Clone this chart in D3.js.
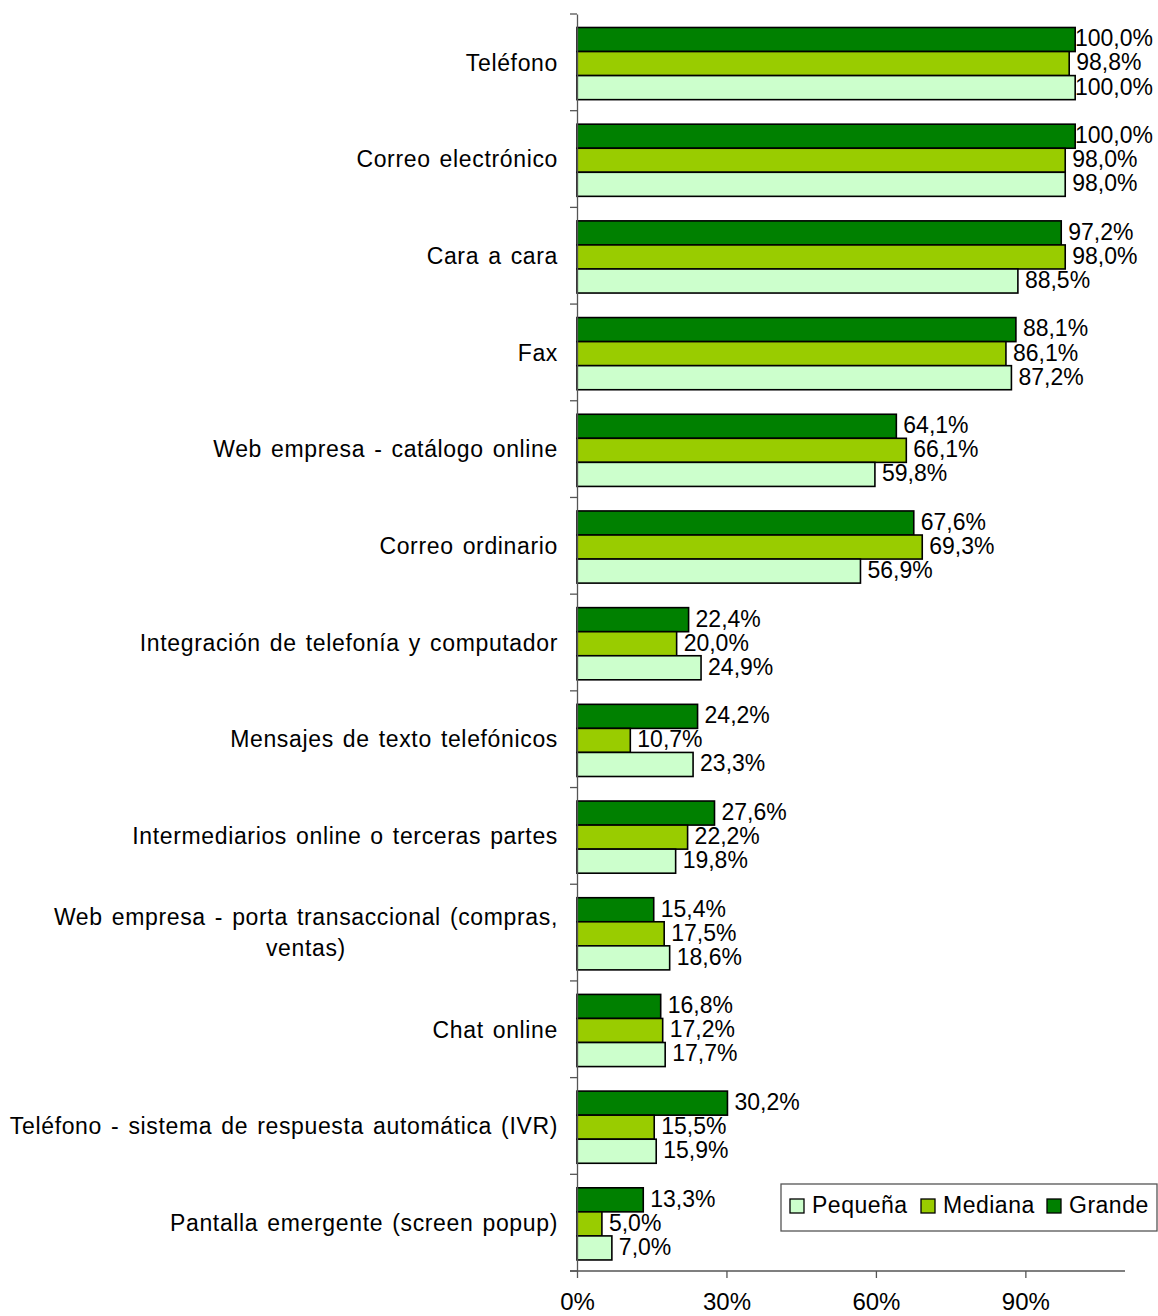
<!DOCTYPE html>
<html>
<head>
<meta charset="utf-8">
<script src="https://cdn.jsdelivr.net/npm/d3@7"></script>
<style>
  html, body { margin: 0; padding: 0; background: #fff; }
  svg { display: block; font-family: "Liberation Sans", Arial, sans-serif; }
</style>
</head>
<body>
<svg id="chart" width="1158" height="1316"></svg>
<script>
// Communication channels by company size (share of companies, %)
const categories = [
  "Teléfono",
  "Correo electrónico",
  "Cara a cara",
  "Fax",
  "Web empresa - catálogo online",
  "Correo ordinario",
  "Integración de telefonía y computador",
  "Mensajes de texto telefónicos",
  "Intermediarios online o terceras partes",
  "Web empresa - porta transaccional (compras, ventas)",
  "Chat online",
  "Teléfono - sistema de respuesta automática (IVR)",
  "Pantalla emergente (screen popup)"
];
const seriesNames = ["Grande", "Mediana", "Pequeña"];
const grande  = [100.0, 100.0, 97.2, 88.1, 64.1, 67.6, 22.4, 24.2, 27.6, 15.4, 16.8, 30.2, 13.3];
const mediana = [98.8, 98.0, 98.0, 86.1, 66.1, 69.3, 20.0, 10.7, 22.2, 17.5, 17.2, 15.5, 5.0];
const pequena = [100.0, 98.0, 88.5, 87.2, 59.8, 56.9, 24.9, 23.3, 19.8, 18.6, 17.7, 15.9, 7.0];
const legendOrder = ["Pequeña", "Mediana", "Grande"];
const xTicks = [0, 30, 60, 90];
const colors = { "Grande": "#008000", "Mediana": "#99CC00", "Pequeña": "#CCFFCC" };

const values = { "Grande": grande, "Mediana": mediana, "Pequeña": pequena };

const svg = d3.select("#chart");
const plotLeft = 577, plotRight = 1125, plotTop = 14, plotBottom = 1271;
const valueFont = 23;
const labelFont = 23;

const x = d3.scaleLinear().domain([0, 110]).range([plotLeft, plotRight]);
const y = d3.scaleBand().domain(categories).range([plotTop, plotBottom]).paddingInner(0).paddingOuter(0);
const inner = d3.scaleBand().domain(seriesNames)
  .range([0, y.bandwidth()]).paddingInner(0).paddingOuter(0.51).align(0.55);

const fmt = v => d3.format(".1f")(v).replace(".", ",") + "%";

// Bars
const groups = svg.append("g").selectAll("g")
  .data(categories)
  .join("g")
  .attr("transform", d => `translate(0,${y(d)})`);

seriesNames.forEach(s => {
  groups.append("rect")
    .attr("x", x(0))
    .attr("y", inner(s))
    .attr("width", (d, i) => x(values[s][i]) - x(0))
    .attr("height", inner.bandwidth())
    .attr("fill", colors[s])
    .attr("stroke", "#000")
    .attr("stroke-width", 1.6);
});

// Value labels, kept inside the right edge of the drawing
const labelLimit = 1153;
seriesNames.forEach(s => {
  groups.append("text")
    .attr("y", inner(s) + inner.bandwidth() / 2)
    .attr("dy", "0.3em")
    .attr("font-size", valueFont)
    .attr("fill", "#000")
    .text((d, i) => fmt(values[s][i]))
    .attr("x", function(d, i) {
      const w = this.getComputedTextLength();
      return Math.min(x(values[s][i]) + 7, labelLimit - w);
    });
});

// Axes
const axisColor = "#555";
const yAxis = svg.append("g")
  .attr("transform", `translate(${plotLeft},0)`)
  .call(d3.axisLeft(y).tickValues([]).tickSizeOuter(0));
yAxis.select(".domain").attr("stroke", axisColor).attr("stroke-width", 1.3);

// Category boundary ticks on the vertical axis
const bounds = categories.map(c => y(c)).concat([plotBottom]);
svg.append("g").selectAll("line")
  .data(bounds)
  .join("line")
  .attr("x1", plotLeft - 7).attr("x2", plotLeft)
  .attr("y1", d => d).attr("y2", d => d)
  .attr("stroke", axisColor).attr("stroke-width", 1.3);

const xAxis = svg.append("g")
  .attr("transform", `translate(0,${plotBottom})`)
  .call(d3.axisBottom(x).tickValues(xTicks).tickSize(7).tickSizeOuter(0).tickFormat(d => d + "%"));
xAxis.select(".domain").attr("stroke", axisColor).attr("stroke-width", 1.3).attr("d", `M${plotLeft - 7},0H${plotRight}`);
xAxis.selectAll(".tick line").attr("stroke", axisColor).attr("stroke-width", 1.3);
xAxis.selectAll(".tick text")
  .attr("font-size", 24)
  .attr("font-family", "'Liberation Sans', Arial, sans-serif")
  .attr("fill", "#000")
  .attr("y", 39)
  .attr("dy", "0");

// Category labels (wrapped when too long)
const labelRight = 558;
const maxLabelWidth = 560;
const catLabels = svg.append("g")
  .attr("letter-spacing", 0.65)
  .attr("word-spacing", 2);
categories.forEach(c => {
  const cy = y(c) + y.bandwidth() / 2;
  const t = catLabels.append("text")
    .attr("font-size", labelFont)
    .attr("fill", "#000");
  t.text(c);
  const w = t.node().getComputedTextLength();
  if (w <= maxLabelWidth) {
    t.attr("x", labelRight).attr("y", cy).attr("dy", "0.36em").attr("text-anchor", "end");
  } else {
    // split onto two lines, centred as a block that ends at labelRight
    const words = c.split(" ");
    let line1 = [], line2 = [];
    words.forEach(wd => {
      const trial = line1.concat([wd]).join(" ");
      t.text(trial);
      if (line2.length === 0 && t.node().getComputedTextLength() <= 520) line1.push(wd);
      else line2.push(wd);
    });
    t.text(line1.join(" "));
    const w1 = t.node().getComputedTextLength();
    t.text("");
    const cx = labelRight - w1 / 2;
    const lh = 31;
    t.attr("text-anchor", "middle");
    t.append("tspan").attr("x", cx).attr("y", cy - lh / 2).attr("dy", "0.36em").text(line1.join(" "));
    t.append("tspan").attr("x", cx).attr("y", cy + lh / 2).attr("dy", "0.36em").text(line2.join(" "));
  }
});

// Legend
const lg = svg.append("g").attr("transform", "translate(781,1184)");
lg.append("rect")
  .attr("x", 0).attr("y", 0).attr("width", 376).attr("height", 47)
  .attr("fill", "#fff").attr("stroke", "#555").attr("stroke-width", 1.3);
const legendX = [9, 140, 266];
legendOrder.forEach((s, i) => {
  const g = lg.append("g").attr("transform", `translate(${legendX[i]},0)`);
  g.append("rect")
    .attr("x", 0).attr("y", 15).attr("width", 14).attr("height", 14)
    .attr("fill", colors[s]).attr("stroke", "#000").attr("stroke-width", 1.3);
  g.append("text")
    .attr("x", 22).attr("y", 21).attr("dy", "0.36em")
    .attr("font-size", labelFont).attr("letter-spacing", 0.5).attr("fill", "#000")
    .text(s);
});
</script>
</body>
</html>
